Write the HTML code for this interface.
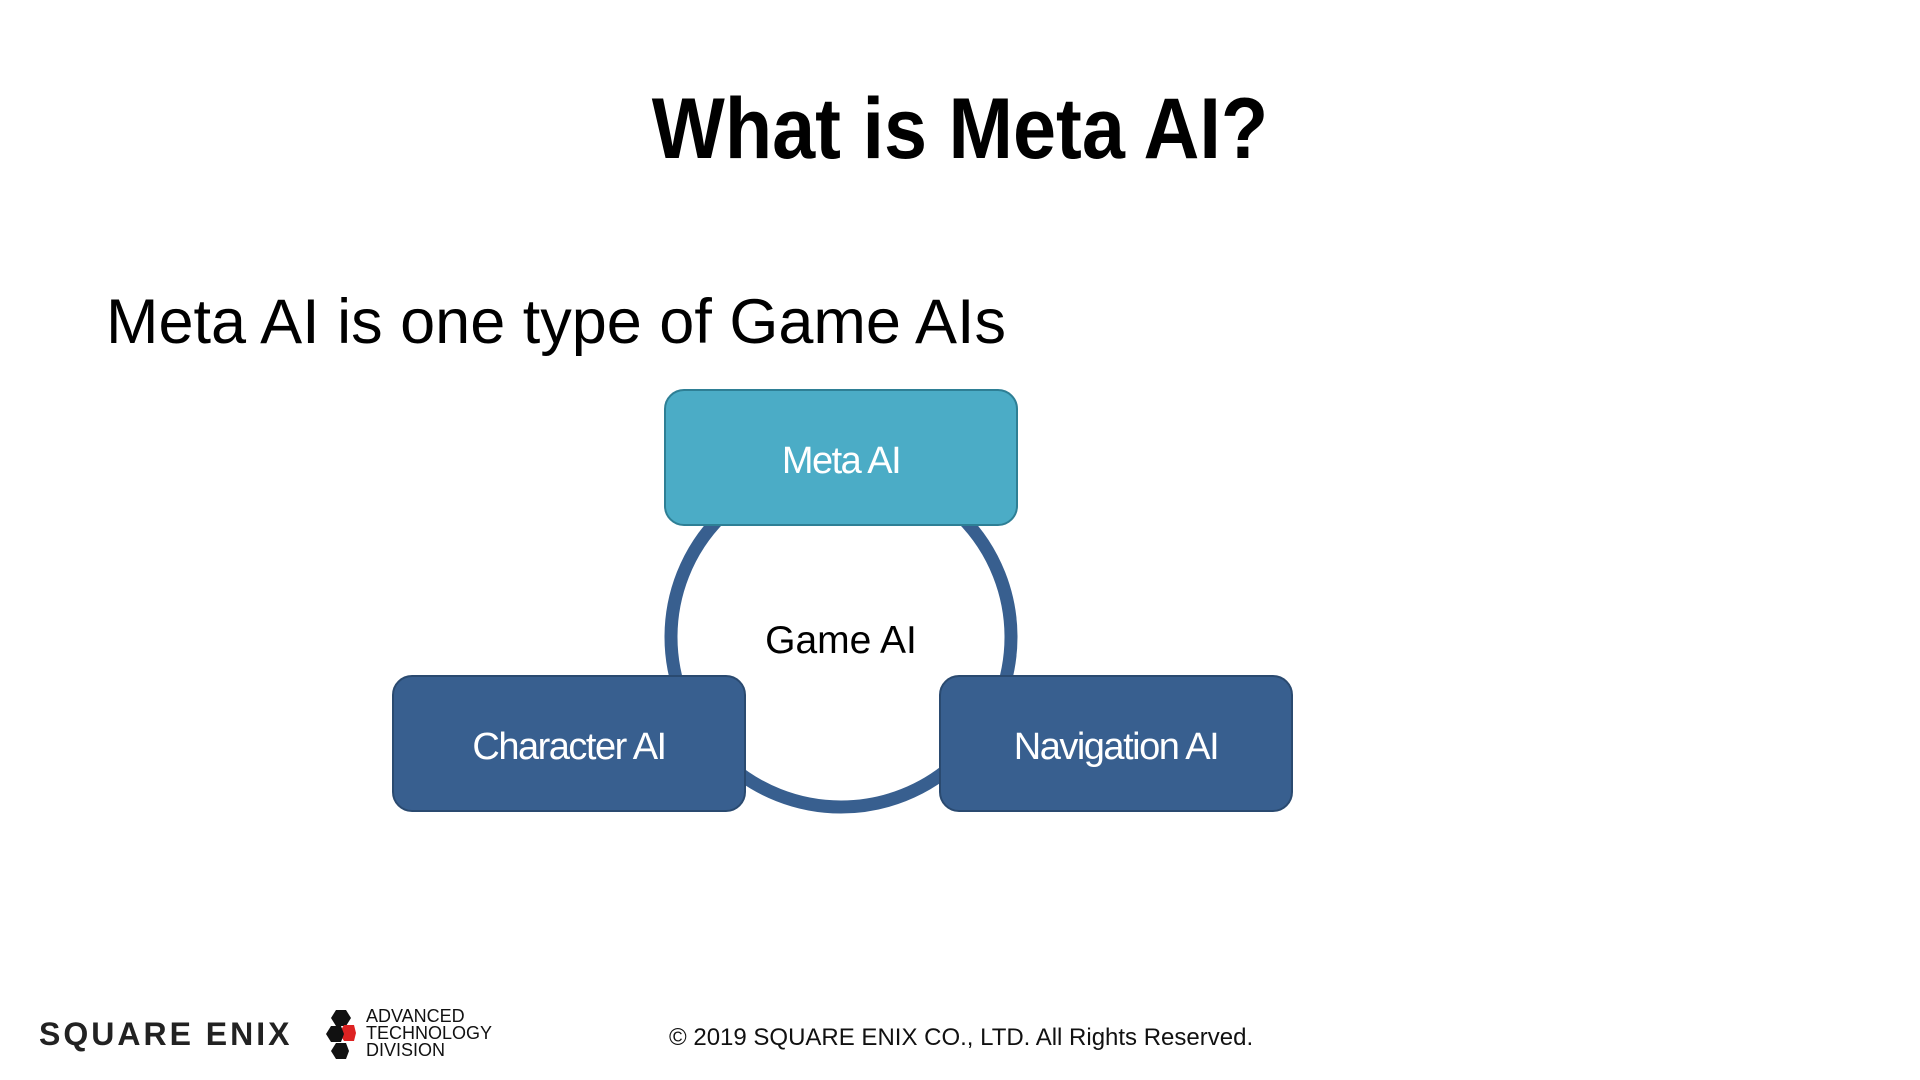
<!DOCTYPE html>
<html><head><meta charset="utf-8"><style>
body{margin:0;width:1920px;height:1080px;background:#fff;position:relative;overflow:hidden;font-family:"Liberation Sans",sans-serif}
.t{position:absolute;white-space:nowrap}
.box{position:absolute;width:354px;height:137px;border-radius:20px;color:#fff;font-size:38px;display:flex;align-items:center;justify-content:center;box-sizing:border-box;letter-spacing:-1.5px;padding-top:8px}
</style></head><body>
<div class="t" style="left:0;width:1920px;text-align:center;top:80px;font-size:86px;font-weight:bold;color:#000;transform:scaleX(0.9)">What is Meta AI?</div>
<div class="t" style="left:106px;top:286px;font-size:63px;color:#000">Meta AI is one type of Game AIs</div>
<svg style="position:absolute;left:0;top:0" width="1920" height="1080">
<circle cx="841" cy="637" r="170" fill="none" stroke="#385F8F" stroke-width="13"/>
</svg>
<div class="t" style="left:741px;width:200px;text-align:center;top:619px;font-size:39px;color:#000">Game AI</div>
<div class="box" style="left:664px;top:389px;background:#4BACC6;border:2px solid #2E7F95">Meta AI</div>
<div class="box" style="left:392px;top:675px;background:#385F8F;border:2px solid #2A4A70">Character AI</div>
<div class="box" style="left:939px;top:675px;background:#385F8F;border:2px solid #2A4A70">Navigation AI</div>
<div class="t" style="left:39px;top:1016px;font-size:32px;font-weight:bold;letter-spacing:3px;color:#222">SQUARE ENIX</div>
<svg style="position:absolute;left:326px;top:1010px" width="30" height="50"><polygon points="10,0 20,0 25,8 20,16 10,16 5,8" fill="#111"/><polygon points="18,15 28,15 30,23 28,31 18,31 13,23" fill="#d22"/><polygon points="5,16 15,16 18,24 15,32 5,32 0,24" fill="#111"/><polygon points="10,33 20,33 23,41 20,49 10,49 5,41" fill="#111"/></svg>
<div class="t" style="left:366px;top:1008px;font-size:18px;line-height:17px;color:#111">ADVANCED<br>TECHNOLOGY<br>DIVISION</div>
<div class="t" style="left:669px;top:1024px;font-size:24px;color:#111">© 2019 SQUARE ENIX CO., LTD. All Rights Reserved.</div>
</body></html>
